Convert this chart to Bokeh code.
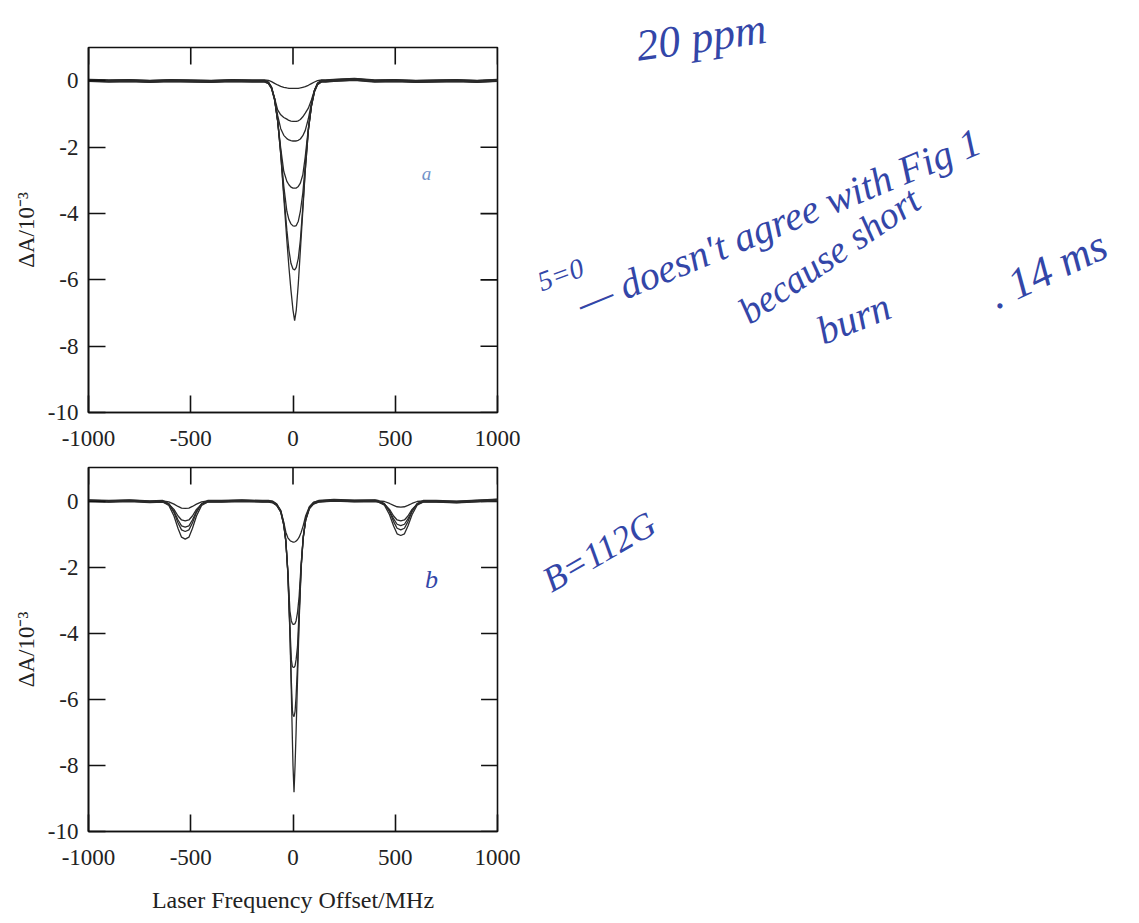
from bokeh.plotting import figure
from bokeh.models import Range1d, FixedTicker, LinearAxis, Label
from bokeh.layouts import column, row
from bokeh.embed import file_html
from bokeh.resources import INLINE
from bokeh.core.properties import value

# ---------------- data ----------------
x_ticks = [-1000, -500, 0, 500, 1000]
y_ticks = [-10, -8, -6, -4, -2, 0]

# panel a (B = 0): seven traces, one dip near 0 MHz
top_freq_left = [-1000, -900, -800, -700, -600, -500, -400, -300, -200]
top_freq_dip = [-160, -140, -120, -105, -90, -75, -60, -45, -30, -20, -10, 0, 8, 16,
                26, 36, 48, 60, 75, 90, 105, 120, 140, 160]
top_freq_right = [200, 300, 400, 500, 600, 700, 800, 900, 1000]
top_base_left = [0.02, 0.0, 0.01, -0.01, 0.01, 0.0, -0.01, 0.01, 0.0]
top_base_right = [0.02, 0.05, 0.0, 0.01, -0.01, 0.0, 0.01, -0.01, 0.02]
top_level = [0.03, -0.02, 0.01, -0.03, 0.02, 0.0, -0.01]

a1 = [0, 0, -0.01, -0.05, -0.10, -0.15, -0.19, -0.22, -0.24, -0.25, -0.25, -0.25, -0.25, -0.25,
      -0.25, -0.24, -0.22, -0.20, -0.16, -0.11, -0.06, -0.02, 0, 0]
a2 = [0, 0, -0.05, -0.20, -0.50, -0.85, -1.00, -1.08, -1.13, -1.17, -1.19, -1.20, -1.20, -1.20,
      -1.18, -1.14, -1.06, -0.95, -0.80, -0.55, -0.26, -0.08, 0, 0]
a3 = [0, 0, -0.05, -0.20, -0.54, -1.05, -1.45, -1.65, -1.75, -1.79, -1.81, -1.82, -1.82, -1.82,
      -1.80, -1.76, -1.66, -1.50, -1.15, -0.68, -0.29, -0.08, 0, 0]
a4 = [0, 0, -0.05, -0.20, -0.55, -1.18, -2.00, -2.70, -3.00, -3.10, -3.17, -3.20, -3.20, -3.20,
      -3.15, -3.05, -2.80, -2.25, -1.40, -0.74, -0.30, -0.08, 0, 0]
a5 = [0, 0, -0.05, -0.20, -0.55, -1.20, -2.15, -3.20, -3.95, -4.20, -4.33, -4.39, -4.40, -4.38,
      -4.25, -3.95, -3.40, -2.55, -1.48, -0.75, -0.30, -0.08, 0, 0]
a6 = [0, 0, -0.05, -0.20, -0.55, -1.20, -2.20, -3.40, -4.50, -5.10, -5.50, -5.67, -5.70, -5.62,
      -5.35, -4.80, -3.80, -2.68, -1.50, -0.75, -0.30, -0.08, 0, 0]
a7 = [0, 0, -0.05, -0.20, -0.55, -1.20, -2.20, -3.50, -4.80, -5.60, -6.30, -6.90, -7.22, -6.90,
      -6.10, -5.10, -3.90, -2.70, -1.50, -0.75, -0.30, -0.08, 0, 0]
top_dips = [a1, a2, a3, a4, a5, a6, a7]

# panel b (B = 112 G): five traces, dips near -527, 0 and +527 MHz
bot_freq_a = [-1000, -900, -800, -700]
bot_freq_left = [-637, -607, -582, -562, -545, -527, -509, -492, -472, -447, -417]
bot_freq_b = [-350, -250, -150]
bot_freq_center = [-120, -100, -80, -60, -45, -35, -25, -15, -8, -3, 0, 5, 10, 15, 22, 30,
                   40, 50, 62, 80, 100, 125]
bot_freq_c = [200, 300, 400]
bot_freq_right = [417, 447, 472, 492, 509, 527, 545, 562, 582, 607, 637]
bot_freq_d = [700, 800, 900, 1000]
bot_base_a = [0.02, 0.0, 0.02, -0.01]
bot_base_b = [0.0, 0.02, 0.0]
bot_base_c = [0.03, 0.01, 0.02]
bot_base_d = [0.0, -0.02, 0.01, 0.04]
bot_level = [0.02, -0.02, 0.0, 0.03, -0.01]

b1_left = [0, -0.03, -0.10, -0.17, -0.22, -0.23, -0.22, -0.17, -0.10, -0.03, 0]
b2_left = [0, -0.06, -0.22, -0.42, -0.54, -0.57, -0.54, -0.42, -0.22, -0.06, 0]
b3_left = [0, -0.08, -0.30, -0.56, -0.74, -0.78, -0.74, -0.56, -0.30, -0.08, 0]
b4_left = [0, -0.09, -0.36, -0.68, -0.89, -0.94, -0.89, -0.68, -0.36, -0.09, 0]
b5_left = [0, -0.11, -0.43, -0.81, -1.07, -1.13, -1.07, -0.81, -0.43, -0.11, 0]

b1_center = [0, -0.02, -0.10, -0.30, -0.65, -0.95, -1.12, -1.20, -1.23, -1.24, -1.25, -1.25,
             -1.24, -1.22, -1.18, -1.10, -0.95, -0.75, -0.45, -0.18, -0.05, 0]
b2_center = [0, -0.02, -0.10, -0.30, -0.70, -1.20, -2.10, -3.30, -3.60, -3.68, -3.70, -3.70,
             -3.68, -3.60, -3.35, -2.85, -1.85, -1.05, -0.55, -0.20, -0.06, 0]
b3_center = [0, -0.02, -0.10, -0.30, -0.70, -1.20, -2.15, -3.80, -4.80, -5.00, -5.02, -5.03,
             -4.98, -4.80, -4.40, -3.30, -1.95, -1.10, -0.55, -0.20, -0.06, 0]
b4_center = [0, -0.02, -0.10, -0.30, -0.70, -1.20, -2.20, -3.95, -5.50, -6.35, -6.50, -6.55,
             -6.40, -5.95, -5.00, -3.50, -2.00, -1.10, -0.55, -0.20, -0.06, 0]
b5_center = [0, -0.02, -0.10, -0.30, -0.70, -1.20, -2.20, -4.00, -5.80, -7.20, -8.00, -8.80,
             -8.00, -7.00, -5.40, -3.60, -2.00, -1.10, -0.55, -0.20, -0.06, 0]

b1_right = [0, -0.02, -0.08, -0.14, -0.18, -0.19, -0.18, -0.14, -0.08, -0.02, 0]
b2_right = [0, -0.06, -0.22, -0.42, -0.54, -0.57, -0.54, -0.42, -0.22, -0.06, 0]
b3_right = [0, -0.07, -0.28, -0.53, -0.69, -0.73, -0.69, -0.53, -0.28, -0.07, 0]
b4_right = [0, -0.09, -0.34, -0.64, -0.84, -0.89, -0.84, -0.64, -0.34, -0.09, 0]
b5_right = [0, -0.10, -0.39, -0.73, -0.97, -1.02, -0.97, -0.73, -0.39, -0.10, 0]

bot_left_dips = [b1_left, b2_left, b3_left, b4_left, b5_left]
bot_center_dips = [b1_center, b2_center, b3_center, b4_center, b5_center]
bot_right_dips = [b1_right, b2_right, b3_right, b4_right, b5_right]

y_label = "\u0394A/10\u207b\u00b3"
x_label = "Laser Frequency Offset/MHz"

# handwritten notes on the page
notes = ["20 ppm", "5=0", "\u2014 doesn't agree with Fig 1", "because short", "burn",
         ". 14 ms", "B=112G"]
panel_notes = ["a", "b"]

# ---------------- styling / layout ----------------
SERIF = "Liberation Serif"
INK = "#111111"
TRACE = "#2a2a2a"
PEN = "#3346a8"
LEFT_W = 530
TOTAL_W = 1139
TOTAL_H = 923
TICK_PX = 17
TOP_H = 462


def make_axis(ticks):
    ax = LinearAxis(ticker=FixedTicker(ticks=ticks))
    ax.major_tick_in = TICK_PX
    ax.major_tick_out = 0
    ax.minor_tick_in = 0
    ax.minor_tick_out = 0
    ax.axis_line_width = 1.6
    ax.axis_line_color = INK
    ax.major_tick_line_width = 1.6
    ax.major_tick_line_color = INK
    ax.major_label_text_font = SERIF
    ax.major_label_text_color = "#222222"
    ax.major_label_text_font_size = "23px"
    ax.major_label_overrides = {t: str(t) for t in ticks}
    return ax


def make_panel(height, border_left, border_right, border_top, border_bottom, ytop, with_xlabel):
    p = figure(width=LEFT_W, height=height, x_range=Range1d(-1000, 1000),
               y_range=Range1d(-10, ytop), x_axis_type=None, y_axis_type=None,
               toolbar_location=None, output_backend="svg",
               min_border_left=border_left, min_border_right=border_right,
               min_border_top=border_top, min_border_bottom=border_bottom)
    p.outline_line_color = INK
    p.outline_line_width = 1.6
    p.background_fill_color = "white"
    p.border_fill_color = "white"
    left = make_axis(y_ticks)
    left.major_label_standoff = 10
    left.axis_label = y_label
    left.axis_label_text_font = SERIF
    left.axis_label_text_font_style = "normal"
    left.axis_label_text_font_size = "23px"
    left.axis_label_text_color = "#222222"
    left.axis_label_standoff = 6
    p.add_layout(left, "left")
    bottom = make_axis(x_ticks)
    bottom.major_label_standoff = 18
    if with_xlabel:
        bottom.axis_label = x_label
        bottom.axis_label_text_font = SERIF
        bottom.axis_label_text_font_style = "normal"
        bottom.axis_label_text_font_size = "24px"
        bottom.axis_label_text_color = "#222222"
        bottom.axis_label_standoff = 19
    p.add_layout(bottom, "below")

    # mirrored inside ticks on the top and right edges of the frame
    frame_w = LEFT_W - border_left - border_right
    frame_h = height - border_top - border_bottom
    dx = TICK_PX * 2000.0 / frame_w
    dy = TICK_PX * (ytop + 10.0) / frame_h
    p.segment(x0=x_ticks, y0=[ytop] * len(x_ticks), x1=x_ticks, y1=[ytop - dy] * len(x_ticks),
              line_color=INK, line_width=1.6)
    p.segment(x0=[1000] * len(y_ticks), y0=y_ticks, x1=[1000 - dx] * len(y_ticks), y1=y_ticks,
              line_color=INK, line_width=1.6)
    return p


# panel a
pa = make_panel(TOP_H, 88, 33, 47, TOP_H - 47 - 365, 1.01, False)
top_x = top_freq_left + top_freq_dip + top_freq_right
for dip, lvl in zip(top_dips, top_level):
    ys = [v + lvl for v in top_base_left + dip + top_base_right]
    pa.line(top_x, ys, line_color=TRACE, line_width=1.3)
pa.add_layout(Label(x=630, y=-3.1, text=panel_notes[0], text_font=SERIF,
                    text_font_style="italic", text_color="#7090c8", text_font_size="19px"))

# panel b
BOT_H = TOTAL_H - TOP_H
pb = make_panel(BOT_H, 78, 29, 467 - TOP_H, BOT_H - (467 - TOP_H) - 364, 1.03, True)
bot_x = (bot_freq_a + bot_freq_left + bot_freq_b + bot_freq_center + bot_freq_c
         + bot_freq_right + bot_freq_d)
for l_dip, c_dip, r_dip, lvl in zip(bot_left_dips, bot_center_dips, bot_right_dips, bot_level):
    ys = [v + lvl for v in (bot_base_a + l_dip + bot_base_b + c_dip + bot_base_c
                            + r_dip + bot_base_d)]
    pb.line(bot_x, ys, line_color=TRACE, line_width=1.3)
pb.add_layout(Label(x=645, y=-2.8, text=panel_notes[1], text_font=SERIF,
                    text_font_style="italic", text_color=PEN, text_font_size="26px"))

# handwriting area
pn = figure(width=TOTAL_W - LEFT_W, height=TOTAL_H, x_range=Range1d(0, TOTAL_W - LEFT_W),
            y_range=Range1d(TOTAL_H, 0), toolbar_location=None, output_backend="svg",
            min_border=0)
pn.axis.visible = False
pn.grid.visible = False
pn.outline_line_color = None
note_pos = [(636, 46, 0.14, "44px"), (538, 282, 0.35, "28px"), (578, 304, 0.39, "40px"),
            (742, 314, 0.60, "38px"), (818, 332, 0.38, "40px"), (990, 296, 0.44, "44px"),
            (545, 582, 0.52, "36px")]
for txt, (px, py, ang, fs) in zip(notes, note_pos):
    pn.text(x=[px - LEFT_W], y=[py], text=[txt], angle=ang, text_font=value(SERIF),
            text_font_style="italic", text_color=PEN, text_font_size=fs,
            text_baseline="alphabetic", text_align="left")

layout = row(column(pa, pb), pn)
open("out.html", "w").write(file_html(layout, INLINE))
